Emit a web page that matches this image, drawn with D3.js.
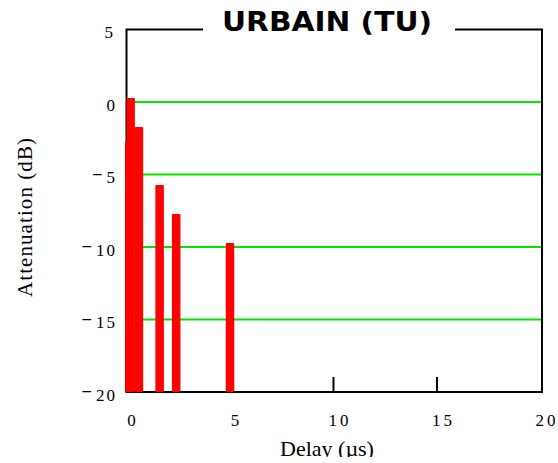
<!DOCTYPE html>
<html><head><meta charset="utf-8">
<script src="https://cdn.jsdelivr.net/npm/d3@7"></script>
<style>html,body{margin:0;padding:0;background:#fff;overflow:hidden}</style>
</head><body>
<script>
const delays = [0, 0.2, 0.6, 1.6, 2.4, 5.0];
const powers = [-3, 0, -2, -6, -8, -10];
const xTicks = [0, 5, 10, 15, 20];
const yTicks = [5, 0, -5, -10, -15, -20];
const gridValues = [0, -5, -10, -15];
const title = "URBAIN (TU)";
const xTitle = "Delay (µs)";
const yTitle = "Attenuation (dB)";

const W = 558, H = 463;
const svg = d3.select("body").append("svg").attr("width", W).attr("height", H);
const x = d3.scaleLinear().domain([0, 20]).range([126.5, 540.5]);
const y = d3.scaleLinear().domain([-20, 5]).range([392, 29.5]);
const x0 = x(0), x1 = 542, yTop = y(5), yBot = y(-20);

// gridlines
svg.append("g").selectAll("line").data(gridValues).join("line")
  .attr("x1", x0).attr("x2", x1).attr("y1", d => y(d)).attr("y2", d => y(d))
  .attr("stroke", "#00e600").attr("stroke-width", 2);

// bottom tick marks
svg.append("g").selectAll("line").data(xTicks.slice(1, 4)).join("line")
  .attr("x1", d => x(d)).attr("x2", d => x(d)).attr("y1", yBot).attr("y2", yBot - 15)
  .attr("stroke", "#000").attr("stroke-width", 2);

// frame
const fr = svg.append("g").attr("fill", "none").attr("stroke", "#000").attr("stroke-width", 2);
fr.append("path").attr("d", `M203,${yTop}H${x0}V${yBot}H${x1}V${yTop}H455`);

// bars
svg.append("defs").append("clipPath").attr("id", "clip")
  .append("rect").attr("x", x0 - 1.5).attr("y", 0).attr("width", x1 - x0 + 2).attr("height", yBot);
svg.append("g").attr("clip-path", "url(#clip)").selectAll("rect").data(delays).join("rect")
  .attr("x", d => x(d) - 4.25).attr("width", 8.5)
  .attr("y", (d, i) => y(powers[i]) - 4)
  .attr("height", (d, i) => yBot - y(powers[i]) + 4)
  .attr("rx", 1.2)
  .attr("fill", "#ff0000");

// title
svg.append("text").attr("x", 327).attr("y", 31).attr("text-anchor", "middle")
  .attr("font-family", "DejaVu Sans").attr("font-weight", "bold").attr("font-size", 26)
  .attr("textLength", 210).attr("lengthAdjust", "spacingAndGlyphs")
  .text(title);

// y tick labels
const yl = svg.append("g").selectAll("text").data(yTicks).join("text")
  .attr("x", d => (d === 5 ? 113 : 115) + 2).attr("y", d => y(d) + 8.5)
  .attr("text-anchor", "end").attr("font-family", "Liberation Serif").attr("font-size", 17)
  .attr("letter-spacing", 2);
yl.filter(d => d < 0).append("tspan").attr("dy", -4.5).attr("font-weight", "bold").text("–");
yl.append("tspan").attr("dx", d => d < 0 ? 3 : 0).attr("dy", d => d < 0 ? 4.5 : 0)
  .attr("font-weight", "normal")
  .text(d => String(Math.abs(d)));

// x tick labels
svg.append("g").selectAll("text").data(xTicks).join("text")
  .attr("x", d => x(d) + 6.5).attr("y", 426)
  .attr("text-anchor", "middle").attr("font-family", "Liberation Serif").attr("font-size", 17)
  .attr("letter-spacing", 3)
  .text(d => String(d));

// axis titles
svg.append("text").attr("transform", "translate(32,217.5) rotate(-90)")
  .attr("text-anchor", "middle").attr("font-family", "Liberation Serif").attr("font-size", 21)
  .attr("textLength", 159).attr("lengthAdjust", "spacing")
  .text(yTitle);
svg.append("text").attr("x", 327).attr("y", 456).attr("text-anchor", "middle")
  .attr("font-family", "Liberation Serif").attr("font-size", 22)
  .text(xTitle);
svg.append("rect").attr("x", 0).attr("y", 457).attr("width", W).attr("height", H - 457).attr("fill", "#fff");
</script>
</body></html>
